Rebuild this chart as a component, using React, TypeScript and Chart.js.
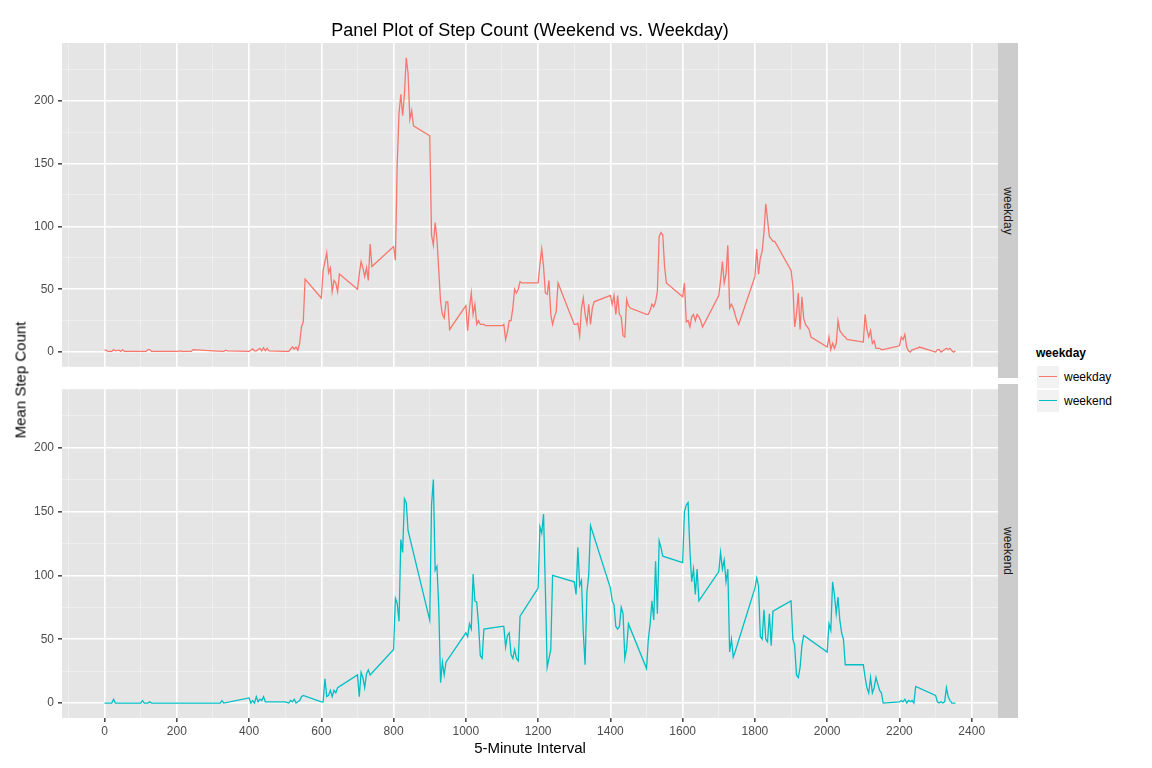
import React, { useEffect, useRef } from "react";
import { Chart, registerables } from "chart.js";
Chart.register(...registerables);

const weekdayX = [0,10,20,25,30,40,45,50,55,100,115,120,125,130,200,210,215,240,245,300,330,335,340,400,410,415,420,430,435,440,445,450,455,500,510,515,520,525,530,535,540,545,550,555,600,605,610,615,620,625,630,635,640,645,650,700,705,710,715,720,725,730,735,740,800,805,810,815,820,825,830,835,840,845,850,855,900,905,910,915,920,925,930,935,940,945,950,955,1000,1005,1010,1015,1020,1025,1030,1035,1040,1045,1050,1055,1100,1105,1110,1115,1120,1125,1130,1135,1140,1145,1150,1155,1200,1205,1210,1215,1220,1225,1230,1235,1240,1245,1250,1255,1300,1305,1310,1315,1320,1325,1330,1335,1340,1345,1350,1355,1400,1405,1410,1415,1420,1425,1430,1435,1440,1445,1450,1455,1500,1505,1510,1515,1520,1525,1530,1535,1540,1545,1550,1555,1600,1605,1610,1615,1620,1625,1630,1635,1640,1645,1650,1655,1700,1705,1710,1715,1720,1725,1730,1735,1740,1745,1750,1755,1800,1805,1810,1815,1820,1825,1830,1835,1840,1845,1850,1855,1900,1905,1910,1915,1920,1925,1930,1935,1940,1945,1950,1955,2000,2005,2010,2015,2020,2025,2030,2035,2040,2045,2050,2055,2100,2105,2110,2115,2120,2125,2130,2135,2140,2145,2150,2155,2200,2205,2210,2215,2220,2225,2230,2235,2240,2245,2250,2255,2300,2305,2310,2315,2320,2325,2330,2335,2340,2345,2350,2355];
const weekdaySteps = [2,0.5,0.5,2,1,1.5,0.5,2,0.5,0.5,0.5,2,2,0.5,0.5,1,0.5,0.5,2,1,0.5,1.5,1,0.5,2.5,1,1,3,1,3.5,1,3,1,0.5,0.5,2.5,4,2.5,4,1.5,7,20,24,58,43,65,72,79,63,67,48,57,55,48,62,50,62,72,67,60,67,57,86,68,84,73,150,190,205,188,205,234,222,185,192,180,172,93,85,103,90,65,40,30,27,40,40,18,37,17,35,47,30,38,22,25,22,22,22,21,21,22,10,16,25,25,35,50,47,50,56,55,55,70,82,68,47,46,57,30,22,28,32,55,22,22,23,13,35,43,30,23,38,22,35,40,45,38,45,30,45,30,28,13,12,42,37,35,30,30,33,38,36,40,48,92,95,93,68,55,44,55,24,25,20,28,30,25,30,28,25,20,45,57,72,55,62,85,35,38,35,30,25,22,60,82,62,75,80,95,118,105,92,90,88,88,65,53,20,30,47,18,44,27,22,20,18,12,4,12,2,7,3,7,25,17,15,13,12,10,8,30,18,12,17,7,9,3,3,3,2,2,5,12,10,14,4,1,0,2,2,3,3,4,0,2,2,0,1,2,3,2,3,1,0,1];

const weekendX = [0,10,20,25,30,100,105,110,120,125,130,200,300,320,325,330,400,405,410,415,420,425,430,435,440,445,500,510,515,520,525,530,535,540,545,550,600,605,610,615,620,625,630,635,640,645,700,705,710,715,720,725,730,735,800,805,810,815,820,825,830,835,840,900,905,910,915,920,925,930,935,940,945,1000,1005,1010,1015,1020,1025,1030,1035,1040,1045,1050,1100,1105,1110,1115,1120,1125,1130,1135,1140,1145,1150,1200,1205,1210,1215,1220,1225,1230,1235,1240,1300,1305,1310,1315,1320,1325,1330,1335,1340,1345,1400,1405,1410,1415,1420,1425,1430,1435,1440,1445,1450,1500,1505,1510,1515,1520,1525,1530,1535,1540,1545,1600,1605,1610,1615,1620,1625,1630,1635,1640,1645,1700,1705,1710,1715,1720,1725,1730,1735,1740,1745,1800,1805,1810,1815,1820,1825,1830,1835,1840,1845,1850,1900,1905,1910,1915,1920,1925,1930,1935,2000,2005,2010,2015,2020,2025,2030,2035,2040,2045,2050,2100,2105,2110,2115,2120,2125,2130,2135,2140,2145,2150,2155,2200,2205,2210,2215,2220,2225,2230,2235,2240,2245,2300,2305,2310,2315,2320,2325,2330,2335,2340,2345,2350,2355];
const weekendSteps = [0,0,0,3,0,0,2,0,0,1,0,0,0,0,2,0,4,0,2,0,5,1,3,2,5,1,1,0,2,1,3,0,1,2,5,6,1,1,19,5,6,10,5,10,8,12,22,5,24,20,12,23,26,22,42,82,78,64,128,118,160,157,135,65,155,175,104,107,75,16,32,22,32,55,52,62,58,101,80,79,62,37,35,58,60,60,44,53,55,38,35,42,35,33,68,90,138,133,148,90,28,35,42,100,95,85,122,92,96,55,30,87,100,139,90,80,77,60,58,60,75,70,35,43,62,27,50,62,80,65,111,70,127,122,115,110,150,155,157,120,95,105,85,105,80,103,118,105,112,95,105,40,50,36,40,90,98,92,52,50,73,50,48,70,45,72,80,50,45,22,20,28,45,53,40,62,57,95,85,70,83,65,55,50,30,30,20,12,8,20,8,12,20,15,10,8,0,1,2,1,3,0,2,1,2,0,13,6,1,0,1,0,1,12,5,2,0,0,0];

const xTicks = [0,200,400,600,800,1000,1200,1400,1600,1800,2000,2200,2400];
const yTicks = [0,50,100,150,200];
const XMIN = -117.75, XMAX = 2472.75, YMIN = -11.7, YMAX = 245.8;
const FONT = "'Liberation Sans', Arial, sans-serif";

const bgPlugin = {
  id: "bg",
  beforeDraw(chart: any) {
    const { ctx, chartArea: a } = chart;
    ctx.save();
    ctx.fillStyle = "#E5E5E5";
    ctx.fillRect(a.left, a.top, a.right - a.left, a.bottom - a.top);
    ctx.restore();
  },
};

function Panel({ xs, ys, color, top, height, padTop, showX }: any) {
  const ref = useRef<HTMLCanvasElement>(null);
  useEffect(() => {
    const isMajorX = (c: any) => c.tick && xTicks.includes(c.tick.value);
    const isMajorY = (c: any) => c.tick && yTicks.includes(c.tick.value);
    const chart = new Chart(ref.current!, {
      type: "line",
      data: { datasets: [{ data: xs.map((x: number, i: number) => ({ x, y: ys[i] })), borderColor: color, borderWidth: 1.3, pointRadius: 0, tension: 0 }] },
      options: {
        animation: false, responsive: false, maintainAspectRatio: false,
        layout: { autoPadding: false, padding: { top: padTop, right: 0, left: 0, bottom: 0 } },
        plugins: { legend: { display: false }, tooltip: { enabled: false } },
        scales: {
          x: {
            type: "linear", min: XMIN, max: XMAX,
            afterBuildTicks: (s: any) => { s.ticks = []; for (let v = -100; v <= 2400; v += 100) s.ticks.push({ value: v }); },
            afterFit: (s: any) => { s.height = showX ? 50 : 0; },
            border: { display: false },
            grid: { color: (c: any) => (isMajorX(c) ? "#FFFFFF" : "rgba(255,255,255,0.45)"), lineWidth: (c: any) => (isMajorX(c) ? 1.6 : 0.8), tickColor: (c: any) => (showX && isMajorX(c) ? "#4D4D4D" : "rgba(0,0,0,0)"), tickLength: 4 },
            ticks: { display: showX, autoSkip: false, maxRotation: 0, padding: 2, color: "#4D4D4D", font: { family: FONT, size: 12 }, callback: (v: any) => (xTicks.includes(v) ? String(v) : "") },
            title: { display: showX, text: "5-Minute Interval", color: "#000", font: { family: FONT, size: 15 }, padding: { top: 0, bottom: 10 } },
          },
          y: {
            type: "linear", min: YMIN, max: YMAX,
            afterBuildTicks: (s: any) => { s.ticks = []; for (let v = 0; v <= 225; v += 25) s.ticks.push({ value: v }); },
            afterFit: (s: any) => { s.width = 62; },
            border: { display: false },
            grid: { color: (c: any) => (isMajorY(c) ? "#FFFFFF" : "rgba(255,255,255,0.45)"), lineWidth: (c: any) => (isMajorY(c) ? 1.6 : 0.8), tickColor: (c: any) => (isMajorY(c) ? "#4D4D4D" : "rgba(0,0,0,0)"), tickLength: 4 },
            ticks: { autoSkip: false, padding: 4, color: "#4D4D4D", font: { family: FONT, size: 12 }, callback: (v: any) => (yTicks.includes(v) ? String(v) : "") },
          },
        },
      },
      plugins: [bgPlugin],
    } as any);
    return () => chart.destroy();
  }, []);
  return <canvas ref={ref} width={998} height={height} style={{ position: "absolute", left: 0, top, width: 998, height }} />;
}

const strip: React.CSSProperties = { position: "absolute", left: 998, width: 20, background: "#CCCCCC", display: "flex", alignItems: "center", justifyContent: "center" };
const stripText: React.CSSProperties = { transform: "rotate(90deg)", whiteSpace: "nowrap", fontSize: 12, color: "#1A1A1A" };

export default function App() {
  return (
    <div style={{ position: "absolute", left: 0, top: 0, width: 1152, height: 768, background: "#fff", fontFamily: FONT }}>
      <Panel xs={weekdayX} ys={weekdaySteps} color="#F8766D" top={0} height={378} padTop={43} showX={false} />
      <Panel xs={weekendX} ys={weekendSteps} color="#00BFC4" top={378} height={390} padTop={6} showX={true} />
      <div style={{ position: "absolute", left: 0, width: 1060, top: 20, textAlign: "center", fontSize: 18 }}>Panel Plot of Step Count (Weekend vs. Weekday)</div>
      <div style={{ position: "absolute", left: 20, top: 380, transform: "translate(-50%,-50%) rotate(-90deg)", whiteSpace: "nowrap", fontSize: 15, fontWeight: "normal" }}>Mean Step Count</div>
      <div style={{ ...strip, top: 43, height: 335 }}><span style={stripText}>weekday</span></div>
      <div style={{ ...strip, top: 384, height: 334 }}><span style={stripText}>weekend</span></div>
      <div style={{ position: "absolute", left: 1036, top: 346, fontSize: 12, fontWeight: "bold" }}>weekday</div>
      {[["weekday", "#F8766D", 366], ["weekend", "#00BFC4", 390]].map(([t, c, y]: any) => (
        <div key={t} style={{ position: "absolute", left: 1036, top: y, height: 22, display: "flex", alignItems: "center" }}>
          <div style={{ width: 22, height: 22, background: "#F2F2F2", position: "relative", border: "0.5px solid #fff" }}>
            <div style={{ position: "absolute", left: 2, right: 2, top: 10, height: 1.3, background: c }} />
          </div>
          <span style={{ marginLeft: 4, fontSize: 12 }}>{t}</span>
        </div>
      ))}
    </div>
  );
}
